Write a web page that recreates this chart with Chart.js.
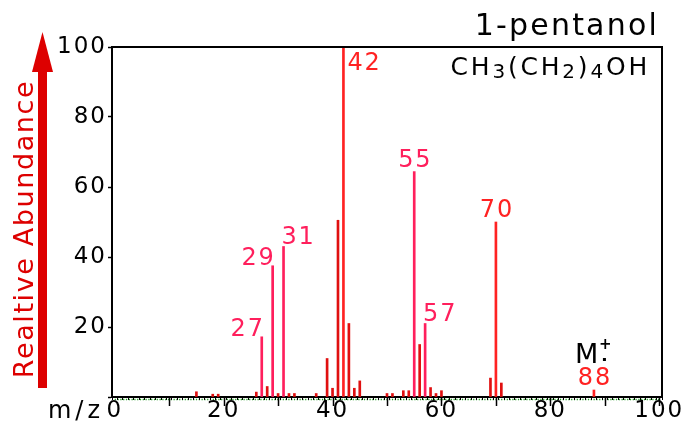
<!DOCTYPE html>
<html><head><meta charset="utf-8">
<script src="https://cdn.jsdelivr.net/npm/chart.js@4/dist/chart.umd.min.js"></script>
<style>html,body{margin:0;padding:0;background:#fff}#wrap{width:690px;height:431px;position:relative}</style>
</head><body><div id="wrap"><canvas id="c" width="690" height="431" style="width:690px;height:431px"></canvas></div>
<script>
// ---- data ----
const mz        = [15, 18, 19, 26, 27, 28, 29, 30, 31, 32, 33, 37, 39, 40, 41, 42, 43, 44, 45, 50, 51, 53, 54, 55, 56, 57, 58, 59, 60, 69, 70, 71, 88];
const abundance = [1.5,0.8,0.8,1.4,17.2,3, 37.5,1, 43, 1, 1, 1, 11, 2.5,50.5,100,21, 2.5,4.6,1, 1, 1.8,1.8,64.4,15, 21, 2.7,1, 1.8,5.4,50, 4, 2];
const labelledPeaks = [27, 29, 31, 42, 55, 57, 70, 88];
const yTickValues = [20, 40, 60, 80, 100];
const xTickLabelValues = [0, 20, 40, 60, 80, 100];
const chartTitle = '1-pentanol';
const formulaParts = [['CH',0],['3',1],['(CH',0],['2',1],[')',0],['4',1],['OH',0]];
const yAxisTitle = 'Realtive Abundance';
const xAxisTitle = 'm/z';
const molecularIonLabel = 'M';

// ---- styles ----
const FONT = '"DejaVu Sans", Verdana, sans-serif';
const PINK = '#ff1f5c', RED = '#ff2222', DARK = '#e01010', AXISRED = '#dd0000';
const pinkPeaks = new Set([27, 29, 31, 55, 57]);
const brightPeaks = new Set([42, 70, 88]);
const labelPlacement = {27:'left', 29:'left', 31:'right', 42:'rightDown', 55:'above', 57:'right', 70:'above', 88:'above'};
const peakColor = m => pinkPeaks.has(m) ? PINK : (brightPeaks.has(m) ? RED : DARK);

const deco = {
  id: 'deco',
  beforeDraw(chart) {
    const {ctx, chartArea: a, scales: {x}} = chart;
    ctx.save();
    ctx.strokeStyle = '#1f9a1f';
    ctx.lineWidth = 1.5;
    ctx.setLineDash([1.2, 1.6]);
    ctx.beginPath();
    ctx.moveTo(x.getPixelForValue(0), a.bottom + 2.5);
    ctx.lineTo(x.getPixelForValue(100), a.bottom + 2.5);
    ctx.stroke();
    ctx.restore();
    ctx.letterSpacing = '2px';
  },
  afterDraw(chart) {
    const {ctx, chartArea: a, scales: {x, y}} = chart;
    ctx.save();
    ctx.letterSpacing = '0px';
    // frame top & right
    ctx.strokeStyle = '#000';
    ctx.lineWidth = 2;
    ctx.beginPath();
    ctx.moveTo(a.left - 1, a.top);
    ctx.lineTo(a.right, a.top);
    ctx.lineTo(a.right, a.bottom);
    ctx.stroke();
    // major x ticks every 10
    ctx.lineWidth = 1.5;
    ctx.beginPath();
    for (let v = 10; v <= 100; v += 10) {
      const px = Math.round(x.getPixelForValue(v)) + 0.5;
      ctx.moveTo(px, a.bottom);
      ctx.lineTo(px, a.bottom + 9);
    }
    ctx.stroke();

    // title
    ctx.fillStyle = '#000';
    ctx.letterSpacing = '2.2px';
    ctx.font = '30px ' + FONT;
    ctx.textAlign = 'right';
    ctx.textBaseline = 'alphabetic';
    ctx.fillText(chartTitle, a.right - 3, 35);

    // formula inside plot, right aligned
    ctx.letterSpacing = '2.8px';
    const mainF = '25px ' + FONT, subF = '20px ' + FONT;
    let total = 0;
    for (const [t, s] of formulaParts) { ctx.font = s ? subF : mainF; total += ctx.measureText(t).width; }
    let fx = a.right - 12 - total;
    ctx.textAlign = 'left';
    for (const [t, s] of formulaParts) {
      ctx.font = s ? subF : mainF;
      ctx.fillText(t, fx, s ? 78 : 75);
      fx += ctx.measureText(t).width;
    }

    // x axis title
    ctx.letterSpacing = '4px';
    ctx.font = '24px ' + FONT;
    ctx.textAlign = 'right';
    ctx.fillText(xAxisTitle, a.left - 8, 418);

    // y axis title (rotated) + arrow
    ctx.save();
    ctx.letterSpacing = '1.6px';
    ctx.fillStyle = AXISRED;
    ctx.font = '27px ' + FONT;
    ctx.translate(33, 229);
    ctx.rotate(-Math.PI / 2);
    ctx.textAlign = 'center';
    ctx.fillText(yAxisTitle, 0, 0);
    ctx.restore();
    ctx.fillStyle = AXISRED;
    ctx.fillRect(38, 66, 9, 322);
    ctx.beginPath();
    ctx.moveTo(42.5, 32);
    ctx.lineTo(53, 72);
    ctx.lineTo(32, 72);
    ctx.closePath();
    ctx.fill();

    // peak labels
    ctx.letterSpacing = '1.8px';
    ctx.font = '24px ' + FONT;
    for (const m of labelledPeaks) {
      const i = mz.indexOf(m);
      const px = x.getPixelForValue(m), py = y.getPixelForValue(abundance[i]);
      const mode = labelPlacement[m];
      ctx.fillStyle = pinkPeaks.has(m) ? PINK : RED;
      const t = String(m);
      if (mode === 'above') { ctx.textAlign = 'center'; ctx.fillText(t, px + 1, py - 5); }
      else if (mode === 'left') { ctx.textAlign = 'right'; ctx.fillText(t, px + 3, py - 1); }
      else if (mode === 'right') { ctx.textAlign = 'left'; ctx.fillText(t, px - 2, py - 3); }
      else { ctx.textAlign = 'left'; ctx.fillText(t, px + 4, py + 23); }
    }

    // molecular ion marker
    const mi = mz[mz.length - 1];
    const mx = x.getPixelForValue(mi), my = y.getPixelForValue(abundance[mz.length - 1]);
    ctx.fillStyle = '#000';
    ctx.letterSpacing = '0px';
    ctx.font = '27px ' + FONT;
    ctx.textAlign = 'left';
    ctx.fillText(molecularIonLabel, mx - 19, my - 27);
    ctx.font = 'bold 15px ' + FONT;
    ctx.fillText('+', mx + 5, my - 41);
    ctx.fillRect(mx + 9, my - 32, 3, 3);
    ctx.restore();
    ctx.letterSpacing = '0px';
  }
};

new Chart(document.getElementById('c'), {
  type: 'bar',
  data: {
    datasets: [{
      data: mz.map((m, i) => ({x: m, y: abundance[i]})),
      backgroundColor: c => peakColor(mz[c.dataIndex]),
      barThickness: 2,
      borderWidth: 0
    }]
  },
  options: {
    responsive: false,
    animation: false,
    devicePixelRatio: 1,
    layout: {padding: {top: 47, right: 28, left: 0, bottom: 0}},
    plugins: {legend: {display: false}, tooltip: {enabled: false}, title: {display: false}},
    scales: {
      x: {
        type: 'linear', min: 0, max: 100,
        afterFit: s => { s.height = 34; },
        border: {color: '#000', width: 2},
        grid: {drawOnChartArea: false, tickLength: 3, tickColor: '#000', tickWidth: 1},
        ticks: {
          stepSize: 1, autoSkip: false, maxRotation: 0, padding: 0,
          color: '#000', font: {family: FONT, size: 23, lineHeight: 1},
          callback: v => xTickLabelValues.includes(v) ? String(v) : ''
        }
      },
      y: {
        min: 0, max: 100,
        afterFit: s => { s.width = 112; },
        border: {color: '#000', width: 2},
        grid: {drawOnChartArea: false, tickLength: 4, tickColor: '#000', tickWidth: 1.5},
        ticks: {
          stepSize: 20, padding: 1, color: '#000',
          font: {family: FONT, size: 23},
          callback: v => yTickValues.includes(v) ? String(v) : ''
        }
      }
    }
  },
  plugins: [deco]
});
</script>
</body></html>
